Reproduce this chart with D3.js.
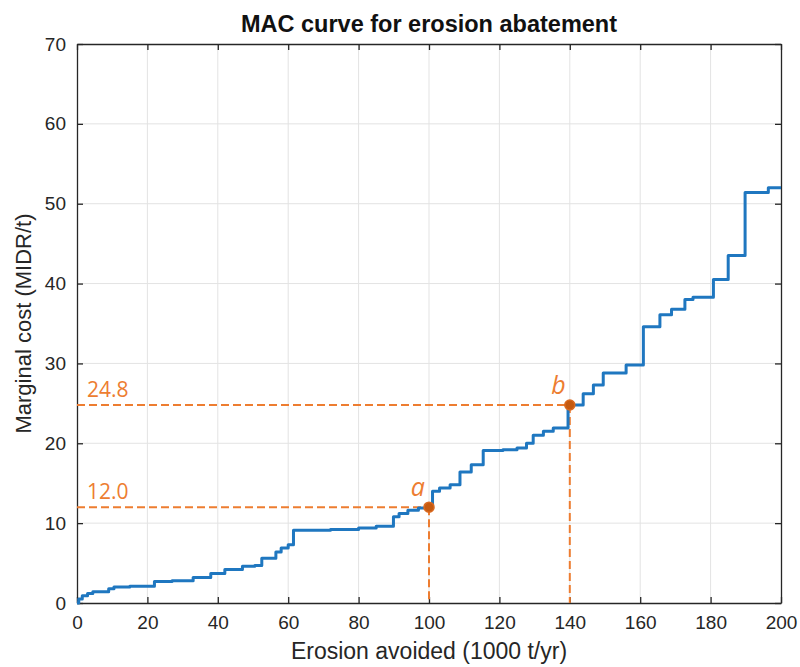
<!DOCTYPE html>
<html>
<head>
<meta charset="utf-8">
<script src="https://cdn.jsdelivr.net/npm/d3@7"></script>
<style>
  html, body { margin: 0; padding: 0; background: #fff; }
  svg { display: block; }
  text { font-family: "Liberation Sans", Arial, sans-serif; }
</style>
</head>
<body>
<svg id="chart" width="800" height="667"></svg>
<script>
// Erosion avoided (1000 t/yr) at which each cost step begins
const abatement = [0, 0.5, 1.5, 3, 4.5, 9, 10.5, 15, 22, 27, 33, 38, 42, 47, 50.5, 52.5, 56.5, 58, 60, 61.5,
  72, 80, 85, 89.9, 91.5, 94, 97, 99, 101, 103, 106, 108.8, 112, 115.4, 121, 125, 127.7, 129.6,
  132.5, 135.3, 139.5, 143.8, 146.7, 149.5, 156, 160.9, 165.6, 168.9, 172.7, 175, 180.8, 185,
  189.8, 196.4, 200];
// Marginal cost (MIDR/t) of each step
const marginalCost = [0, 0.5, 0.9, 1.2, 1.4, 1.8, 2.0, 2.1, 2.7, 2.8, 3.2, 3.7, 4.2, 4.6, 4.7, 5.6, 6.4, 6.9, 7.3, 9.1,
  9.2, 9.4, 9.6, 10.8, 11.2, 11.6, 11.9, 12.0, 14.0, 14.4, 14.8, 16.4, 17.3, 19.1, 19.2, 19.4, 20.0, 21.0,
  21.5, 21.9, 24.8, 26.2, 27.3, 28.8, 29.8, 34.6, 36.1, 36.8, 38.0, 38.3, 40.5, 43.5,
  51.4, 52.0, 52.0];

// Highlighted points on the curve
const markerNames = ["a", "b"];
const markerX = [100, 140];
const markerY = [12.0, 24.8];

const xTicks = d3.range(0, 201, 20);
const yTicks = d3.range(0, 71, 10);

const svg = d3.select("#chart");
const m = { left: 77, right: 19, top: 44, bottom: 64 };
const W = 800, H = 667;
const x = d3.scaleLinear().domain([0, 200]).range([m.left, W - m.right]);
const y = d3.scaleLinear().domain([0, 70]).range([H - m.bottom, m.top]);

const axisColor = "#262626";
const orange = "#ED7D31";

// grid
const grid = svg.append("g");
grid.selectAll("line.gx").data(xTicks.slice(1, -1)).join("line")
  .attr("x1", d => x(d)).attr("x2", d => x(d))
  .attr("y1", y(0)).attr("y2", y(70))
  .attr("stroke", "#e3e3e3").attr("stroke-width", 1);
grid.selectAll("line.gy").data(yTicks.slice(1, -1)).join("line")
  .attr("y1", d => y(d)).attr("y2", d => y(d))
  .attr("x1", x(0)).attr("x2", x(200))
  .attr("stroke", "#e3e3e3").attr("stroke-width", 1);

// axes (ticks pointing inward, box on all sides)
const tickFont = 19;
const xAxis = svg.append("g").attr("transform", `translate(0,${y(0)})`)
  .call(d3.axisBottom(x).tickValues(xTicks).tickSizeInner(-6).tickSizeOuter(0).tickPadding(13));
const yAxis = svg.append("g").attr("transform", `translate(${x(0)},0)`)
  .call(d3.axisLeft(y).tickValues(yTicks).tickSizeInner(-6).tickSizeOuter(0).tickPadding(11));
const xTop = svg.append("g").attr("transform", `translate(0,${y(70)})`)
  .call(d3.axisTop(x).tickValues(xTicks).tickSizeInner(-6).tickSizeOuter(0).tickFormat(""));
const yRight = svg.append("g").attr("transform", `translate(${x(200)},0)`)
  .call(d3.axisRight(y).tickValues(yTicks).tickSizeInner(-6).tickSizeOuter(0).tickFormat(""));
[xAxis, yAxis, xTop, yRight].forEach(g => {
  g.select(".domain").attr("stroke", axisColor).attr("stroke-width", 1.3);
  g.selectAll(".tick line").attr("stroke", axisColor).attr("stroke-width", 1.3);
  g.selectAll(".tick text").attr("fill", axisColor).style("font-size", tickFont + "px")
    .style("font-family", "'Liberation Sans', Arial, sans-serif");
});

// dashed guide lines to the highlighted points
const guides = svg.append("g");
markerX.forEach((mx, i) => {
  guides.append("line")
    .attr("x1", x(0)).attr("x2", x(mx))
    .attr("y1", y(markerY[i])).attr("y2", y(markerY[i]))
    .attr("stroke", orange).attr("stroke-width", 2).attr("stroke-dasharray", "8,4");
  guides.append("line")
    .attr("x1", x(mx)).attr("x2", x(mx))
    .attr("y1", y(markerY[i])).attr("y2", y(0))
    .attr("stroke", orange).attr("stroke-width", 2).attr("stroke-dasharray", "8,4");
  guides.append("text")
    .attr("x", x(0) + 10).attr("y", y(markerY[i]) - 8)
    .attr("fill", orange).style("font-size", "21px")
    .style("font-family", "'Open Sans', 'Liberation Sans', sans-serif")
    .text(markerY[i].toFixed(1));
});

// MAC step curve
const pts = abatement.map((d, i) => [d, marginalCost[i]]);
const line = d3.line().x(d => x(d[0])).y(d => y(d[1])).curve(d3.curveStepAfter);
svg.append("path").datum(pts)
  .attr("d", line)
  .attr("fill", "none").attr("stroke", "#1f77c0").attr("stroke-width", 3)
  .attr("stroke-linejoin", "round");

// point markers and their letters
markerX.forEach((mx, i) => {
  svg.append("circle")
    .attr("cx", x(mx)).attr("cy", y(markerY[i])).attr("r", 5)
    .attr("fill", "#C55A11").attr("stroke", "#D9691F").attr("stroke-width", 1.5);
  svg.append("text")
    .attr("x", x(mx) - 4).attr("y", y(markerY[i]) - 11)
    .attr("text-anchor", "end")
    .attr("fill", orange).style("font-size", "25px").style("font-style", "italic")
    .style("font-family", "'Open Sans', 'Liberation Sans', sans-serif")
    .text(markerNames[i]);
});

// title and axis labels
svg.append("text")
  .attr("x", (x(0) + x(200)) / 2).attr("y", 32)
  .attr("text-anchor", "middle").attr("fill", "#111")
  .style("font-size", "23.5px").style("font-weight", "bold")
  .text("MAC curve for erosion abatement");
svg.append("text")
  .attr("x", (x(0) + x(200)) / 2).attr("y", 659)
  .attr("text-anchor", "middle").attr("fill", axisColor)
  .style("font-size", "23px")
  .text("Erosion avoided (1000 t/yr)");
svg.append("text")
  .attr("transform", `translate(31,${(y(0) + y(70)) / 2}) rotate(-90)`)
  .attr("text-anchor", "middle").attr("fill", axisColor)
  .style("font-size", "22px")
  .text("Marginal cost (MIDR/t)");
</script>
</body>
</html>
